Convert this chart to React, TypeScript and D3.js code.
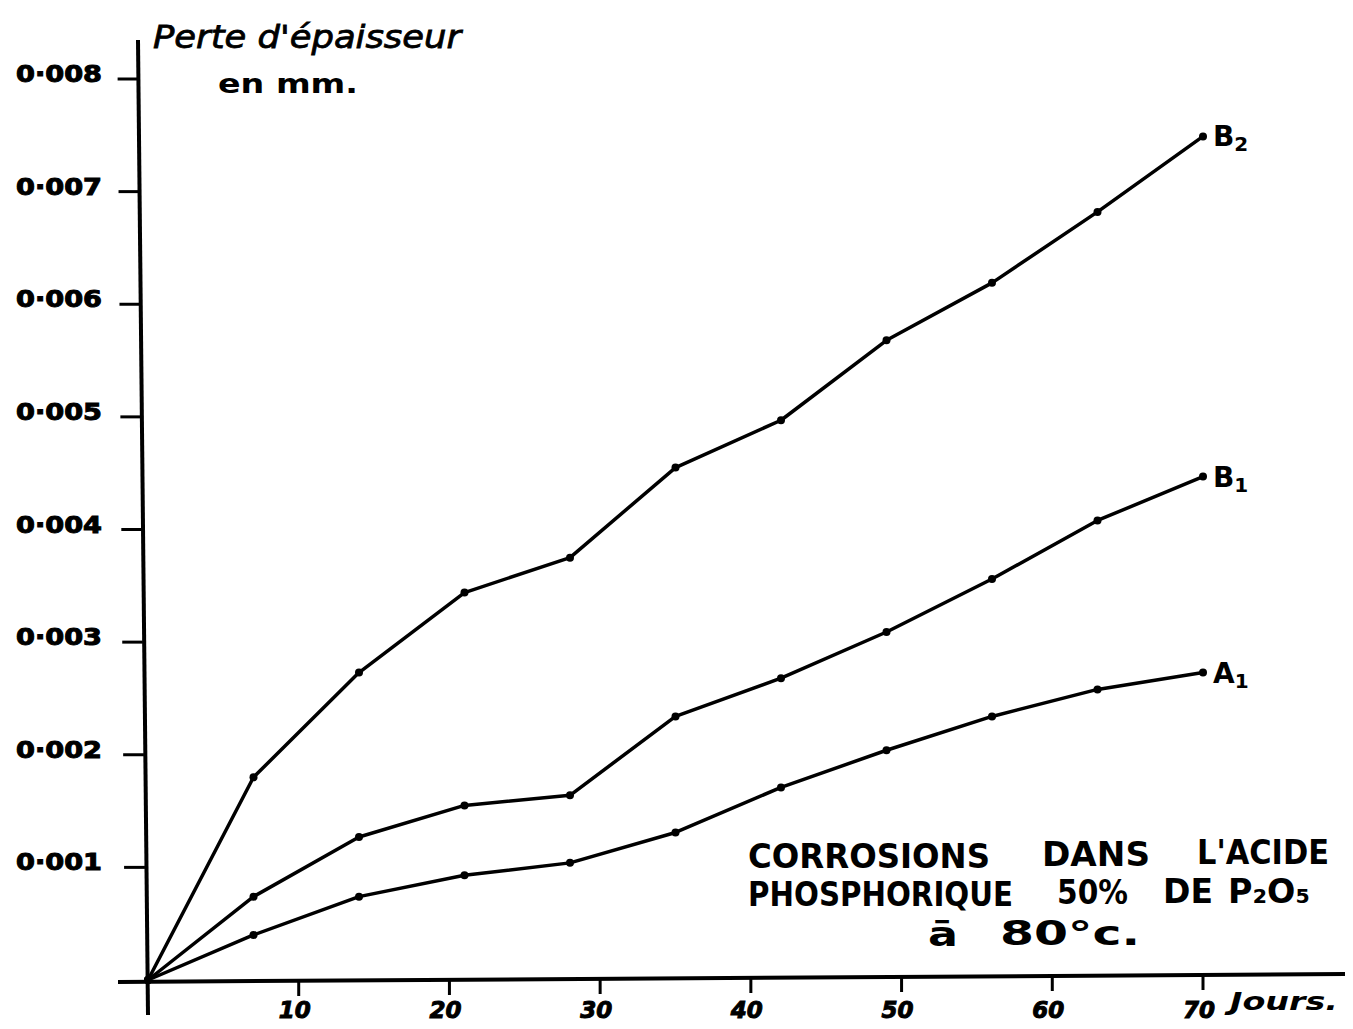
import React, { useEffect, useRef } from "react";
import * as d3 from "d3";

// Perte d'épaisseur (mm) vs jours, acide phosphorique 50% P2O5 à 80°C
const days = [0, 7, 14, 21, 28, 35, 42, 49, 56, 63, 70];
const seriesB2 = [0, 0.0018, 0.00273, 0.00344, 0.00375, 0.00455, 0.00497, 0.00568, 0.00619, 0.00682, 0.00749];
const seriesB1 = [0, 0.00074, 0.00127, 0.00155, 0.00164, 0.00234, 0.00268, 0.00309, 0.00356, 0.00408, 0.00447];
const seriesA1 = [0, 0.0004, 0.00074, 0.00093, 0.00104, 0.00131, 0.00171, 0.00204, 0.00234, 0.00258, 0.00273];
const seriesNames = [["B", "2"], ["B", "1"], ["A", "1"]];
const xTicks = [10, 20, 30, 40, 50, 60, 70];
const yTicks = [0.001, 0.002, 0.003, 0.004, 0.005, 0.006, 0.007, 0.008];
const yTickLabels = ["0·001", "0·002", "0·003", "0·004", "0·005", "0·006", "0·007", "0·008"];

const W = 1353;
const H = 1029;
const FONT = "'DejaVu Sans', Verdana, sans-serif";

export default function App() {
  const ref = useRef<SVGSVGElement>(null);

  useEffect(() => {
    const svg = d3.select(ref.current);
    svg.selectAll("*").remove();

    const x = d3.scaleLinear().domain([0, 70]).range([148, 1203]);
    const y = d3.scaleLinear().domain([0, 0.008]).range([980, 79]);

    const g = svg.append("g");

    // axes (hand drawn, slightly tilted)
    g.append("line")
      .attr("x1", 118).attr("x2", 1345)
      .attr("y1", y(0) + 2).attr("y2", y(0) - 6)
      .attr("stroke", "#000").attr("stroke-width", 4);
    g.append("line")
      .attr("x1", 138).attr("x2", 148)
      .attr("y1", 40).attr("y2", 1015)
      .attr("stroke", "#000").attr("stroke-width", 4);

    // y ticks
    g.selectAll(".ytick")
      .data(yTicks)
      .join("line")
      .attr("class", "ytick")
      .attr("x1", (d) => 125 - ((980 - y(d)) / 975) * 8)
      .attr("x2", (d) => 146 - ((980 - y(d)) / 975) * 9)
      .attr("y1", (d) => y(d))
      .attr("y2", (d) => y(d))
      .attr("stroke", "#000").attr("stroke-width", 3);

    g.selectAll(".ylab")
      .data(yTicks)
      .join("text")
      .attr("class", "ylab")
      .attr("x", 16)
      .attr("y", (d) => y(d) + 3)
      .attr("textLength", 86)
      .attr("lengthAdjust", "spacingAndGlyphs")
      .attr("font-family", FONT)
      .attr("font-weight", "bold")
      .attr("font-size", 23)
      .attr("stroke", "#000")
      .attr("stroke-width", 1)
      .text((d, i) => yTickLabels[i]);

    // x ticks
    g.selectAll(".xtick")
      .data(xTicks)
      .join("line")
      .attr("class", "xtick")
      .attr("x1", (d) => x(d))
      .attr("x2", (d) => x(d))
      .attr("y1", (d) => y(0) + 1 - (d / 70) * 7)
      .attr("y2", (d) => y(0) + 17 - (d / 70) * 7)
      .attr("stroke", "#000").attr("stroke-width", 3);

    g.selectAll(".xlab")
      .data(xTicks)
      .join("text")
      .attr("class", "xlab")
      .attr("x", (d) => x(d) - 4)
      .attr("y", 1018)
      .attr("text-anchor", "middle")
      .attr("font-family", FONT)
      .attr("font-weight", "bold")
      .attr("font-style", "italic")
      .attr("font-size", 23)
      .attr("stroke", "#000")
      .attr("stroke-width", 1)
      .text((d) => d);

    g.append("text")
      .attr("x", 1230).attr("y", 1010)
      .attr("font-family", FONT)
      .attr("font-weight", "bold")
      .attr("font-style", "italic")
      .attr("font-size", 24)
      .attr("textLength", 108)
      .attr("lengthAdjust", "spacingAndGlyphs")
      .text("Jours.");

    // axis title
    g.append("text")
      .attr("x", 153).attr("y", 48)
      .attr("font-family", FONT)
      .attr("font-style", "italic")
      .attr("font-size", 32)
      .attr("stroke", "#000")
      .attr("stroke-width", 0.8)
      .attr("textLength", 308)
      .attr("lengthAdjust", "spacingAndGlyphs")
      .text("Perte d'épaisseur");
    g.append("text")
      .attr("x", 218).attr("y", 93)
      .attr("font-family", FONT)
      .attr("font-weight", "bold")
      .attr("font-size", 26)
      .attr("textLength", 140)
      .attr("lengthAdjust", "spacingAndGlyphs")
      .text("en   mm.");

    // lines
    const line = d3.line<number>()
      .x((d, i) => x(days[i]))
      .y((d) => y(d));

    [seriesB2, seriesB1, seriesA1].forEach((s, k) => {
      g.append("path")
        .datum(s)
        .attr("d", line)
        .attr("fill", "none")
        .attr("stroke", "#000")
        .attr("stroke-width", 3.5)
        .attr("stroke-linejoin", "round");

      g.selectAll(".pt" + k)
        .data(s)
        .join("circle")
        .attr("class", "pt" + k)
        .attr("cx", (d, i) => x(days[i]))
        .attr("cy", (d) => y(d))
        .attr("r", 4)
        .attr("fill", "#000");

      const last = s[s.length - 1];
      const t = g.append("text")
        .attr("x", x(70) + 10)
        .attr("y", y(last) + 10)
        .attr("font-family", FONT)
        .attr("font-weight", "bold")
        .attr("font-size", 28);
      t.append("tspan").text(seriesNames[k][0]);
      t.append("tspan").attr("font-size", 20).attr("dy", 5).text(seriesNames[k][1]);
    });

    // annotation
    const words = [
      ["CORROSIONS", 748, 868, 242],
      ["DANS", 1042, 866, 108],
      ["L'ACIDE", 1197, 864, 132],
      ["PHOSPHORIQUE", 748, 906, 265],
      ["50%", 1057, 904, 71],
      ["DE", 1163, 903, 50],
      ["P₂O₅", 1228, 903, 82],
      ["ā", 928, 946, 30],
      ["80°c.", 1000, 945, 140],
    ] as [string, number, number, number][];

    g.selectAll(".note")
      .data(words)
      .join("text")
      .attr("class", "note")
      .attr("x", (d) => d[1])
      .attr("y", (d) => d[2])
      .attr("textLength", (d) => d[3])
      .attr("lengthAdjust", "spacingAndGlyphs")
      .attr("font-family", FONT)
      .attr("font-weight", "bold")
      .attr("font-size", 34)
      .text((d) => d[0]);
  }, []);

  return (
    <svg
      ref={ref}
      width={W}
      height={H}
      style={{ position: "absolute", left: 0, top: 0, background: "#fff" }}
    />
  );
}
